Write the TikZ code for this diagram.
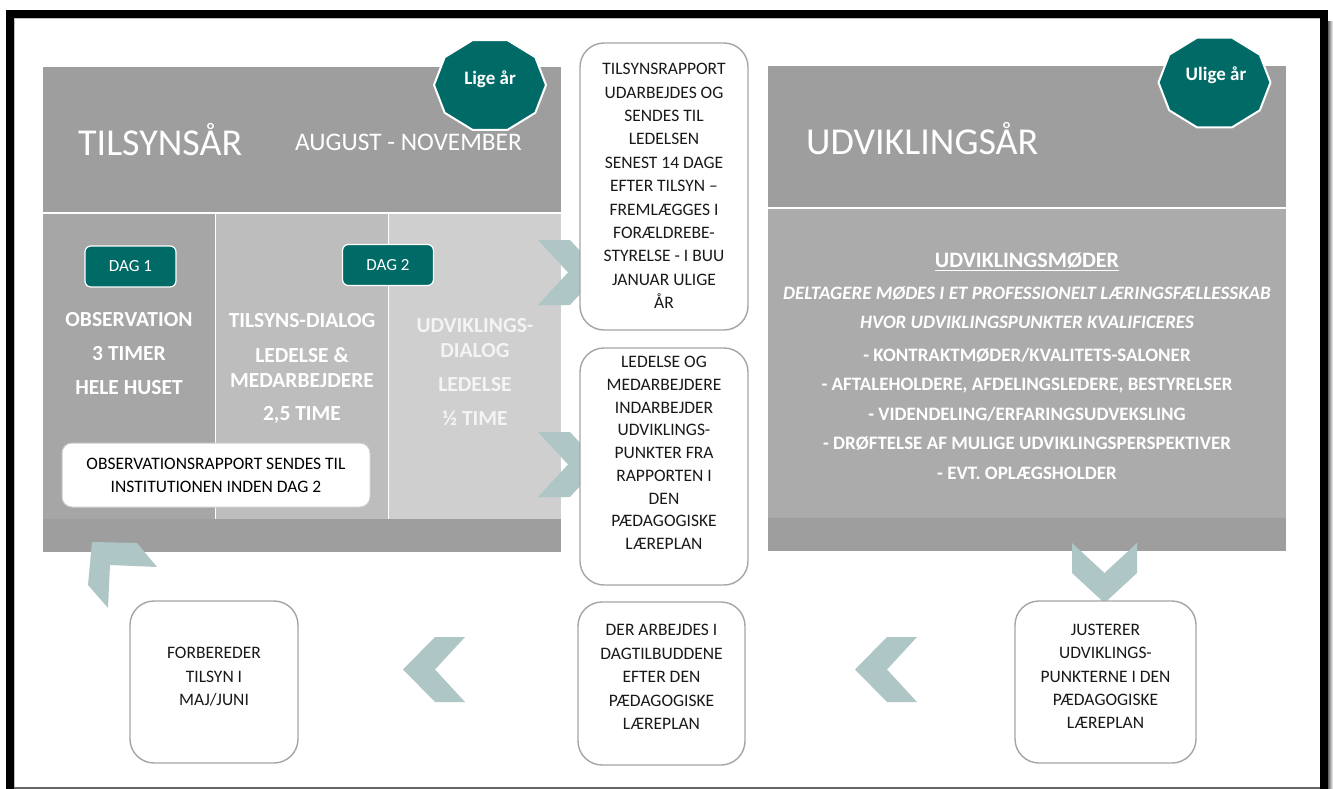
\documentclass[tikz,border=0pt]{standalone}
\usepackage{fontspec}
\setmainfont{Carlito}
\definecolor{hdrgray}{HTML}{9E9E9E}
\definecolor{cagray}{HTML}{A6A6A6}
\definecolor{cbgray}{HTML}{BDBDBD}
\definecolor{ccgray}{HTML}{CFCFCF}
\definecolor{rmidgray}{HTML}{ABABAB}
\definecolor{tealdk}{HTML}{006A66}
\definecolor{chevcol}{HTML}{AFC6C6}
\definecolor{boxline}{HTML}{A5A5A5}
\definecolor{coltxt}{HTML}{F4F4F4}
\begin{document}
\begin{tikzpicture}[x=1pt,y=-1pt,
  panel/.style={inner sep=0pt, outer sep=0pt, draw=none},
  htitle/.style={inner sep=0pt, text=white, font=\fontsize{38}{44}\selectfont},
  hsub/.style={inner sep=0pt, text=white, font=\fontsize{25.3}{30}\selectfont},
  deca/.style={fill=tealdk, draw=white, line width=2pt, line join=round},
  decatext/.style={inner sep=0pt, text=white, font=\bfseries\fontsize{19}{22}\selectfont},
  dag/.style={fill=tealdk, draw=white, line width=1.2pt, rounded corners=6pt, text=white,
    font=\fontsize{17}{20}\selectfont, minimum width=91pt, minimum height=41pt, inner sep=0pt},
  coltext/.style={inner sep=0pt, text=white, align=center, font=\bfseries\fontsize{21.5}{25}\selectfont},
  tbox/.style={draw=boxline, line width=1.4pt, fill=white, rounded corners=24pt, inner sep=0pt},
  obsbox/.style={draw=black!20, line width=1pt, fill=white, rounded corners=10pt, inner sep=0pt,
    minimum width=308pt, minimum height=64pt, align=center, font=\fontsize{17.5}{23}\selectfont},
  boxtext/.style={inner sep=0pt, align=center, text=black!90, font=\fontsize{17.5}{23.4}\selectfont},
  rtext/.style={inner sep=0pt, align=center, text=white, font=\bfseries\fontsize{19}{29.5}\selectfont},
  chev/.style={fill=chevcol, draw=none}
]
\useasboundingbox (0,0) rectangle (1333,789);
\fill[white] (0,0) rectangle (1333,789);
% frame
\begin{scope}
\clip (0,0) rectangle (1333,789);
\shade[left color=black!60, right color=white] (1328,22) rectangle (1333,800);
\draw[line width=8pt] (10,14) rectangle (1324,805);
\draw[black!25, line width=0.8pt] (14.4,830) -- (14.4,18.4) -- (1319.6,18.4);
\end{scope}
\draw[black!60, line width=1.5pt] (14,787.8) -- (1320,787.8);

% left panel
\node[panel, fill=hdrgray, minimum width=518pt, minimum height=145pt] (lhead) at (302,139.5) {};
\node[panel, fill=cagray, minimum width=172pt, minimum height=305pt] (col1) at (129,366.5) {};
\node[panel, fill=cbgray, minimum width=172pt, minimum height=305pt] (col2) at (302,366.5) {};
\node[panel, fill=ccgray, minimum width=172pt, minimum height=305pt] (col3) at (475,366.5) {};
\node[panel, fill=hdrgray, minimum width=518pt, minimum height=33pt] (lbar) at (302,535.5) {};

% right panel
\node[panel, fill=hdrgray, minimum width=518pt, minimum height=141pt] (rhead) at (1027,136.5) {};
\node[panel, fill=rmidgray, minimum width=518pt, minimum height=309pt] (rmid) at (1027,363.5) {};
\node[panel, fill=hdrgray, minimum width=518pt, minimum height=33pt] (rbar) at (1027,534.5) {};

% header titles
\node[htitle, anchor=west] (tilsyn) at (78,140) {TILSYNSÅR};
\node[hsub, anchor=west] (augnov) at (295,142) {AUGUST - NOVEMBER};
\node[htitle, anchor=west] (udvik) at (806,139) {UDVIKLINGSÅR};

% decagons
\draw[deca, shift={(490,85)}] (0:56 and 47.3) \foreach \a in {36,72,...,324}{ -- (\a:56 and 47.3)} -- cycle;
\node[decatext] (lige) at (490,79) {Lige år};
\draw[deca, shift={(1214.5,82.5)}] (0:56 and 47.3) \foreach \a in {36,72,...,324}{ -- (\a:56 and 47.3)} -- cycle;
\node[decatext] (ulige) at (1216,75) {Ulige år};

% day tags
\node[dag] (dag1) at (130.5,266.5) {DAG 1};
\node[dag] (dag2) at (388,265) {DAG 2};

% column texts
\node[coltext] (c1t) at (129,354) {OBSERVATION\\[9pt]3 TIMER\\[9pt]HELE HUSET};
\node[coltext] (c2t) at (302,368.5) {TILSYNS-DIALOG\\[10pt]LEDELSE \&\\MEDARBEJDERE\\[8pt]2,5 TIME};
\node[coltext, text=coltxt] (c3t) at (475,371.5) {UDVIKLINGS-\\DIALOG\\[9pt]LEDELSE\\[9pt]½ TIME};

% observation report box
\node[obsbox] (obs) at (216,475) {OBSERVATIONSRAPPORT SENDES TIL\\INSTITUTIONEN INDEN DAG 2};

% right panel text
\node[rtext] (rt) at (1027,366) {{\fontsize{22}{29.5}\selectfont\underline{UDVIKLINGSMØDER}}\\[2pt]
  {\itshape DELTAGERE MØDES I ET PROFESSIONELT LÆRINGSFÆLLESSKAB}\\
  {\itshape HVOR UDVIKLINGSPUNKTER KVALIFICERES}\\[3pt]
  - KONTRAKTMØDER/KVALITETS-SALONER\\
  - AFTALEHOLDERE, AFDELINGSLEDERE, BESTYRELSER\\
  - VIDENDELING/ERFARINGSUDVEKSLING\\
  - DRØFTELSE AF MULIGE UDVIKLINGSPERSPEKTIVER\\
  - EVT. OPLÆGSHOLDER};

% chevrons
\fill[chev] (538,240) -- (570,240) -- (600,272.5) -- (570,305) -- (538,305) -- (568,272.5) -- cycle;
\fill[chev] (538,432) -- (570,432) -- (600,464.5) -- (570,497) -- (538,497) -- (568,464.5) -- cycle;
\fill[chev] (1072,543) -- (1104.5,573) -- (1137,543) -- (1137,573) -- (1104.5,603) -- (1072,573) -- cycle;
\fill[chev] (917,637) -- (887,637) -- (855,669.5) -- (887,702) -- (917,702) -- (887,669.5) -- cycle;
\fill[chev] (465,637) -- (435,637) -- (403,669.5) -- (435,702) -- (465,702) -- (435,669.5) -- cycle;
\fill[chev] (92,542) -- (137,543) -- (157,567) -- (110,565) -- (108,608) -- (88,585) -- cycle;

% text boxes
\node[tbox, minimum width=168pt, minimum height=287pt] (b1) at (664,186.5) {};
\node[boxtext] (b1t) at (664,186) {TILSYNSRAPPORT\\UDARBEJDES OG\\SENDES TIL\\LEDELSEN\\SENEST 14 DAGE\\EFTER TILSYN –\\FREMLÆGGES I\\FORÆLDREBE-\\STYRELSE - I BUU\\JANUAR ULIGE\\ÅR};
\node[tbox, minimum width=168pt, minimum height=237pt] (b2) at (664,466.5) {};
\node[boxtext, font=\fontsize{17.5}{22.7}\selectfont] (b2t) at (664,453) {LEDELSE OG\\MEDARBEJDERE\\INDARBEJDER\\UDVIKLINGS-\\PUNKTER FRA\\RAPPORTEN I\\DEN\\PÆDAGOGISKE\\LÆREPLAN};
\node[tbox, minimum width=168pt, minimum height=162pt] (b3) at (214,682) {};
\node[boxtext] (b3t) at (214,677) {FORBEREDER\\TILSYN I\\MAJ/JUNI};
\node[tbox, minimum width=167pt, minimum height=163pt] (b4) at (661.5,683.5) {};
\node[boxtext] (b4t) at (661.5,677) {DER ARBEJDES I\\DAGTILBUDDENE\\EFTER DEN\\PÆDAGOGISKE\\LÆREPLAN};
\node[tbox, minimum width=181pt, minimum height=162pt] (b5) at (1105.5,682) {};
\node[boxtext] (b5t) at (1105.5,676.5) {JUSTERER\\UDVIKLINGS-\\PUNKTERNE I DEN\\PÆDAGOGISKE\\LÆREPLAN};
\end{tikzpicture}
\end{document}
